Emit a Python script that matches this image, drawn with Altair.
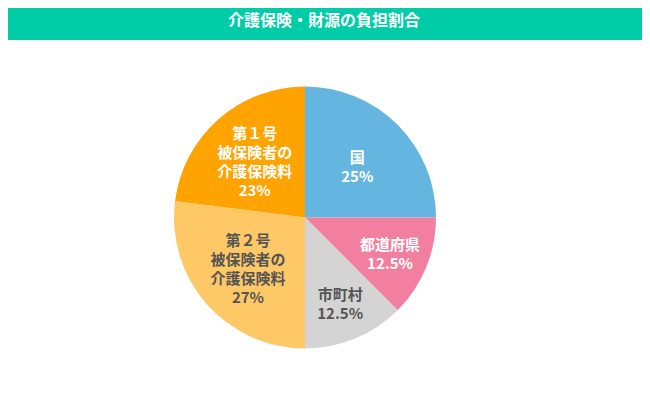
import altair as alt
import pandas as pd

title = "介護保険・財源の負担割合"
categories = ["国", "都道府県", "市町村", "第2号被保険者の介護保険料", "第1号被保険者の介護保険料"]
shares = [25, 12.5, 12.5, 27, 23]
labels = ["国\n25%", "都道府県\n12.5%", "市町村\n12.5%",
          "第２号\n被保険者の\n介護保険料\n27%", "第１号\n被保険者の\n介護保険料\n23%"]
slice_colors = ["#64B5E0", "#F27FA0", "#D4D4D4", "#FFC866", "#FFA300"]

df = pd.DataFrame({"cat": categories, "share": shares, "label": labels,
                   "idx": list(range(len(categories)))})

FONT = "Noto Sans CJK JP"
CX, CY = 297, 209.5
LH = 19

base = alt.Chart(df).encode(
    theta=alt.Theta("share:Q", stack=True),
    order=alt.Order("idx:Q"),
)

pie = base.mark_arc(outerRadius=131).encode(
    color=alt.Color("cat:N", scale=alt.Scale(domain=categories, range=slice_colors), legend=None),
    x=alt.value(CX), y=alt.value(CY),
)

dark_test = "datum.cat == '市町村' || datum.cat == '第2号被保険者の介護保険料'"
nlines = "length(split(datum.label, '\\n'))"

def label_layer(test, r, n):
    return base.transform_calculate(
        shown=f"({test}) ? datum.label : ''"
    ).mark_text(
        radius=r, font=FONT, fontSize=15, fontWeight="bold",
        lineBreak="\n", lineHeight=LH, align="center", baseline="middle",
        dy=-(n - 1) * LH / 2 + 2,
    ).encode(
        text="shown:N",
        color=alt.condition(dark_test, alt.value("#555555"), alt.value("#ffffff")),
        x=alt.value(CX), y=alt.value(CY),
    )

tall_labels = label_layer(f"{nlines} == 4", 76, 4)
big_short = label_layer(f"{nlines} == 2 && datum.share >= 20", 74, 2)
small_labels = label_layer("datum.share < 20", 92, 2)

head_data = alt.Data(values=[{"t": title}])
head = alt.Chart(head_data).mark_rect(color="#00CCA8").encode(
    x=alt.value(0), x2=alt.value(634), y=alt.value(0), y2=alt.value(32)
)
head_text = alt.Chart(head_data).mark_text(
    font=FONT, fontSize=16, fontWeight="bold", color="#ffffff",
    align="center", baseline="middle",
).encode(text="t:N", x=alt.value(316), y=alt.value(13))

chart = alt.layer(head, head_text, pie, tall_labels, big_short, small_labels).resolve_scale(
    color="independent"
).properties(
    width=634, height=380,
    autosize=alt.AutoSizeParams(type="none"),
    padding=0,
).configure_view(stroke=None)

chart.save("out.html", embed_options={"renderer": "svg", "actions": False})
